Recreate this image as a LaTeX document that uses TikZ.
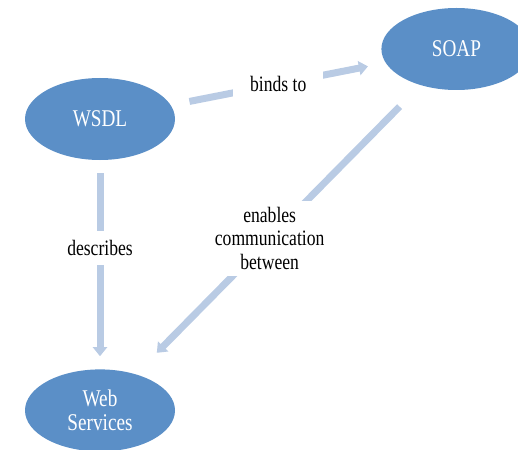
\documentclass[tikz,border=0pt]{standalone}
\usepackage{fontspec}
\setmainfont[FakeStretch=0.8]{Liberation Serif}
\usetikzlibrary{arrows.meta, positioning, shapes.geometric}
\definecolor{blobBlue}{RGB}{91,143,199}
\definecolor{flowBlue}{RGB}{185,203,228}
\tikzstyle{blob} = [ellipse, fill=blobBlue, text=white,
   minimum width=150pt, minimum height=82pt, inner sep=0pt,
   align=center, font=\fontsize{24}{24}\selectfont]
\tikzstyle{flow} = [flowBlue, line width=7pt,
   -{Triangle[length=9pt,width=14pt]}]
\tikzstyle{tag} = [fill=white, text=black, inner sep=9pt, align=center,
   font=\fontsize{22}{23.5}\selectfont]

\begin{document}
\begin{tikzpicture}[x=1pt, y=-1pt]
  \useasboundingbox (0,0) rectangle (518,449);
  \node[blob] (wsdl) at (100,119) {WSDL};
  \node[blob, right=206pt of wsdl, yshift=70pt] (soap) {SOAP};
  \node[blob, below=209pt of wsdl] (ws) {Web\\Services};
  \draw[flow, shorten <=19pt, shorten >=18pt] (wsdl) --
    node[tag, inner xsep=17pt] {binds to} (soap);
  \draw[flow, shorten <=13pt, shorten >=13pt] (wsdl) --
    node[tag, pos=0.42] {describes} (ws);
  \draw[flow, shorten <=30pt, shorten >=30pt] (soap) --
    node[tag, pos=0.53, inner sep=6pt] {enables\\communication\\between} (ws);
\end{tikzpicture}
\end{document}
